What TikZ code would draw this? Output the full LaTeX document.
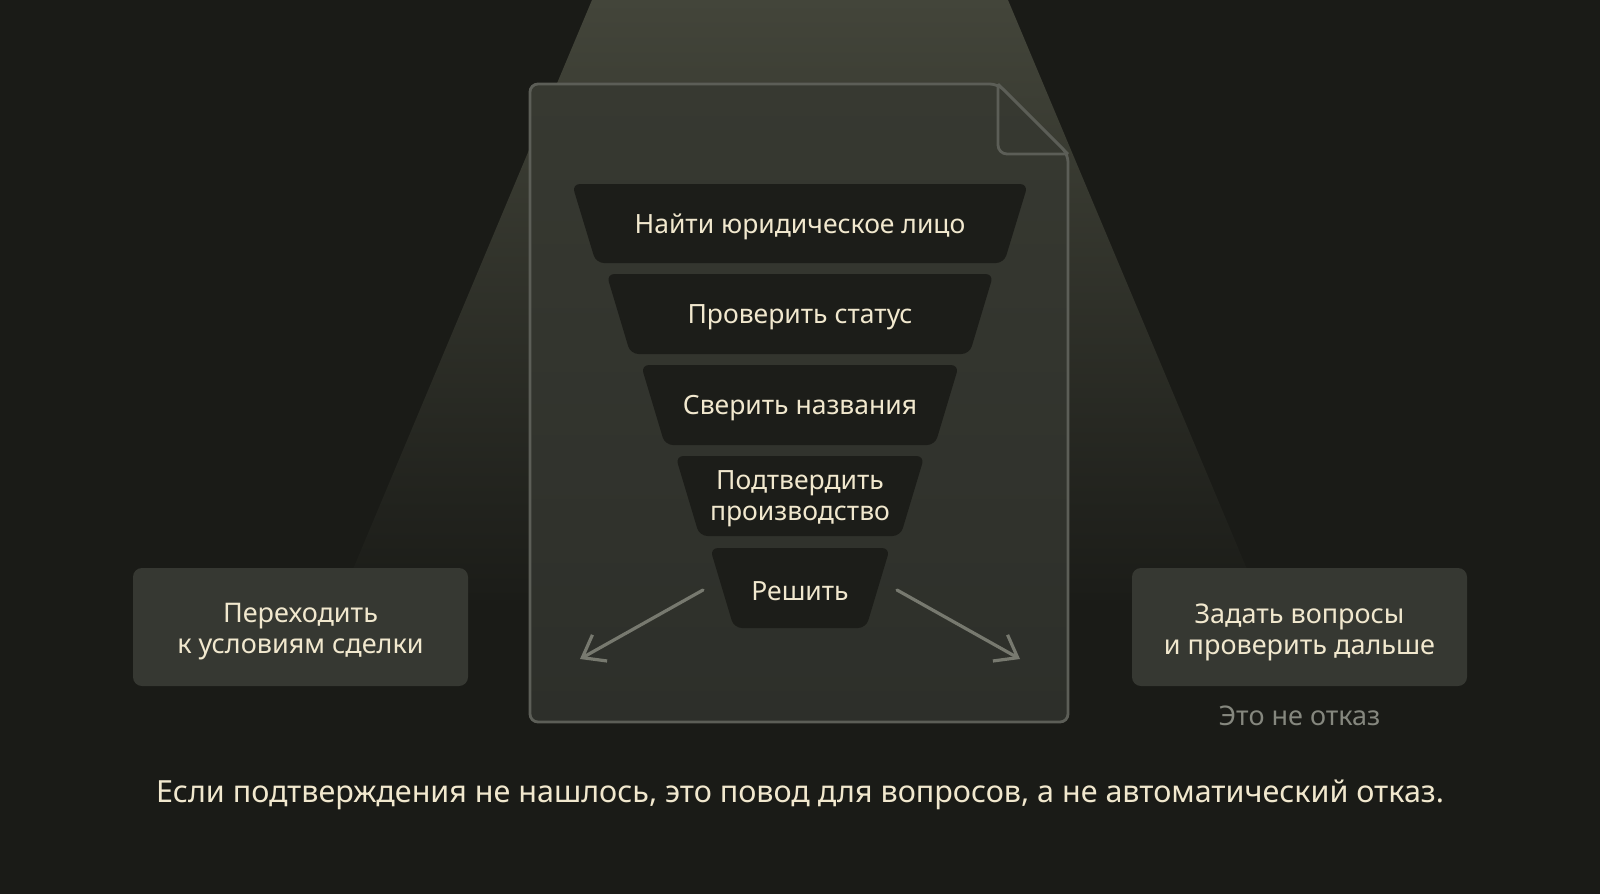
\documentclass[tikz,border=0pt]{standalone}
\usepackage{fontspec}
\setmainfont{Noto Sans}
\usetikzlibrary{arrows.meta}
\definecolor{bg}{HTML}{1A1B17}
\definecolor{conetop}{HTML}{43453A}
\definecolor{conebot}{HTML}{1B1C18}
\definecolor{doctop}{HTML}{373931}
\definecolor{docbot}{HTML}{2D2F2A}
\definecolor{docline}{HTML}{5C5E57}
\definecolor{segfill}{HTML}{1C1D19}
\definecolor{cream}{HTML}{F1E8CE}
\definecolor{boxfill}{HTML}{363832}
\definecolor{arrowc}{HTML}{77796F}
\definecolor{muted}{HTML}{85877E}
\tikzset{
  seg/.style={fill=segfill, rounded corners=8pt},
  segtext/.style={text=cream, font=\fontsize{26.5}{31}\selectfont, align=center, inner sep=0pt},
  sidebox/.style={fill=boxfill, rounded corners=9pt, minimum width=335pt, minimum height=118pt, inner sep=0pt,
    text=cream, font=\fontsize{27}{31}\selectfont, align=center},
  flowarrow/.style={draw=arrowc, line width=3.2pt, line cap=round,
    -{Straight Barb[length=20pt,width=30pt,line width=3.2pt]}},
}
\begin{document}
\begin{tikzpicture}[x=1pt,y=-1pt]
\useasboundingbox (0,0) rectangle (1600,894);
\fill[bg] (0,0) rectangle (1600,894);
% spotlight
\shade[top color=conetop, bottom color=conebot] (592,0) -- (1008,0) -- (1260,600) -- (340,600) -- cycle;
% document
\shade[top color=doctop, bottom color=docbot, draw=docline, line width=2.8pt, rounded corners=8pt]
  (530,84) -- (998,84) -- (1068,154) -- (1068,722) -- (530,722) -- cycle;
\draw[docline, line width=2.8pt, rounded corners=9pt] (998,84) -- (998,154) -- (1068,154);
\draw[docline, line width=2.8pt] (998,84) -- (1068,154);
% funnel segments
\fill[seg] (572,184) -- (1028,184) -- (1004,263) -- (596,263) -- cycle;
\fill[seg] (606.5,274) -- (993.5,274) -- (969.5,354) -- (630.5,354) -- cycle;
\fill[seg] (641,365) -- (959,365) -- (935,445) -- (665,445) -- cycle;
\fill[seg] (675.5,456) -- (924.5,456) -- (900.5,536) -- (699.5,536) -- cycle;
\fill[seg] (710,548) -- (890,548) -- (866,628) -- (734,628) -- cycle;
\node[segtext] (s1) at (800,226.5) {Найти юридическое лицо};
\node[segtext] (s2) at (800,317) {Проверить статус};
\node[segtext] (s3) at (800,408) {Сверить названия};
\node[segtext] (s4) at (800,499) {Подтвердить\\производство};
\node[segtext] (s5) at (800,591) {Решить};
% arrows
\coordinate (la) at (703,590);
\coordinate (lb) at (580,659);
\coordinate (ra) at (897,590);
\coordinate (rb) at (1020,659);
\draw[flowarrow] (la) -- (lb);
\draw[flowarrow] (ra) -- (rb);
% side boxes
\node[sidebox] (left) at (300.5,627) {};
\node[sidebox] (right) at (1299.5,627) {};
\node[segtext, font=\fontsize{27}{31}\selectfont] (lt) at (300.5,632) {Переходить\\к условиям сделки};
\node[segtext, font=\fontsize{27}{31}\selectfont] (rt) at (1299.5,632) {Задать вопросы\\и проверить дальше};
\node[text=muted, font=\fontsize{27}{31}\selectfont, inner sep=0pt] (note) at (1299.5,716) {Это не отказ};
% bottom caption
\node[text=cream, font=\fontsize{30.5}{36}\selectfont, inner sep=0pt] (caption) at (800,795)
  {Если подтверждения не нашлось, это повод для вопросов, а не автоматический отказ.};
\end{tikzpicture}
\end{document}
